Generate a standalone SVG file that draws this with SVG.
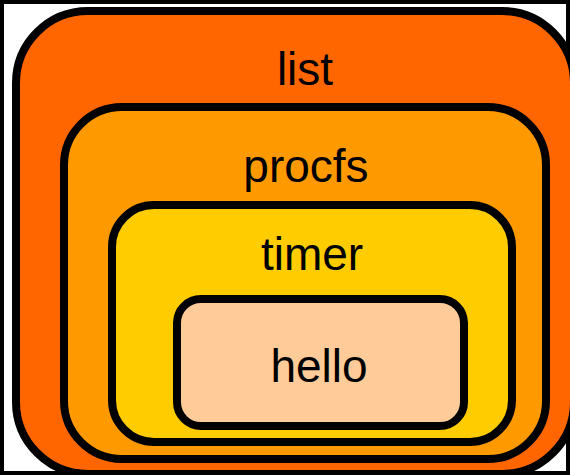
<svg xmlns="http://www.w3.org/2000/svg" width="570" height="475" viewBox="0 0 570 475">
<style>
rect{stroke:#000;stroke-width:8}
text{font-family:"Liberation Sans",Arial,sans-serif;font-size:46px;fill:#000;text-anchor:middle}
</style>
<rect width="570" height="475" fill="#fff" stroke="none"/>
<g id="list"><rect x="16" y="11" width="558" height="463" rx="72" fill="#ff6600"/><text x="305" y="85">list</text></g>
<g id="procfs"><rect x="64" y="107" width="482" height="352" rx="58" fill="#ff9900"/><text x="306" y="182">procfs</text></g>
<g id="timer"><rect x="112" y="205" width="400" height="237" rx="42" fill="#ffcc00"/><text x="312" y="270">timer</text></g>
<g id="hello"><rect x="177" y="299" width="287" height="127" rx="24" fill="#ffcc99"/><text x="319" y="382">hello</text></g>
<g id="connectors"/>
</svg>
